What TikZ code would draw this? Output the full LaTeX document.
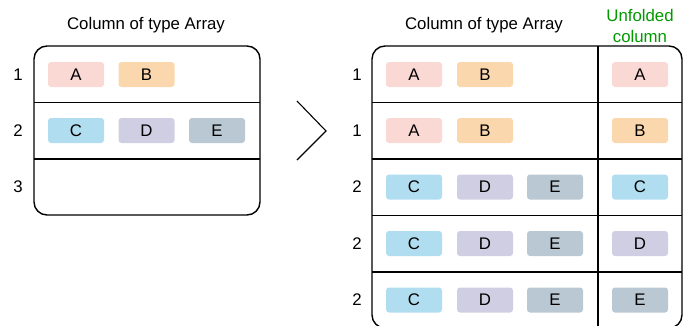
\documentclass[tikz,border=0pt]{standalone}
\usepackage{fontspec}
\setmainfont{Liberation Sans}
\usepackage{xcolor}
\definecolor{cellred}{HTML}{FAD9D5}
\definecolor{cellorange}{HTML}{FAD7AC}
\definecolor{cellblue}{HTML}{B1DDF0}
\definecolor{cellpurple}{HTML}{D0CEE2}
\definecolor{cellgrey}{HTML}{BAC8D3}
\definecolor{unfoldgreen}{HTML}{009900}
\tikzset{
	txt/.style = {align=center, inner sep=0pt, text centered, font=\fontsize{16.8}{20.5}\selectfont},
	pill/.style = {txt, rounded corners=3pt, minimum width=56pt, minimum height=25pt},
	valA/.style = {pill, fill=cellred},
	valB/.style = {pill, fill=cellorange},
	valC/.style = {pill, fill=cellblue},
	valD/.style = {pill, fill=cellpurple},
	valE/.style = {pill, fill=cellgrey},
	rownum/.style = {txt},
	frame/.style = {line width=1.4pt, rounded corners=13pt},
	rule/.style = {line width=1.4pt},
}

\begin{document}
\begin{tikzpicture}[x=1pt, y=-1pt]
	\useasboundingbox (0,0) rectangle (687,325);

	% source column
	\node[txt] (srctitle) at (146,25) {Column of type Array};
	\draw[frame] (34,46) rectangle (260,215);
	\draw[rule] (34,102.5) -- (260,102.5);
	\draw[rule] (34,159) -- (260,159);

	\node[rownum] (s1) at (18,74.5) {1};
	\node[rownum] (s2) at (18,130.5) {2};
	\node[rownum] (s3) at (18,187) {3};

	\node[valA] (sa) at (76,74.5) {A};
	\node[valB] (sb) at (146.5,74.5) {B};
	\node[valC] (sc) at (76,130.5) {C};
	\node[valD] (sd) at (146.5,130.5) {D};
	\node[valE] (se) at (217,130.5) {E};

	% arrow
	\draw[rule, line width=1.1pt] (297,101) -- (326,131) -- (297,160);

	% unfolded table
	\node[txt] (dsttitle) at (484,25) {Column of type Array};
	\node[txt, text=unfoldgreen] (unftitle) at (640,26) {Unfolded\\column};
	\draw[frame] (372,46) rectangle (682,328);
	\draw[rule] (372,102.5) -- (682,102.5);
	\draw[rule] (372,159) -- (682,159);
	\draw[rule] (372,215.5) -- (682,215.5);
	\draw[rule] (372,272) -- (682,272);
	\draw[rule] (598,46) -- (598,328);

	\node[rownum] (d1) at (357,74.5) {1};
	\node[rownum] (d2) at (357,130.5) {1};
	\node[rownum] (d3) at (357,187) {2};
	\node[rownum] (d4) at (357,243.5) {2};
	\node[rownum] (d5) at (357,300) {2};

	\node[valA] (a1) at (414,74.5) {A};
	\node[valB] (b1) at (485,74.5) {B};
	\node[valA] (a2) at (414,130.5) {A};
	\node[valB] (b2) at (485,130.5) {B};
	\node[valC] (c3) at (414,187) {C};
	\node[valD] (d3v) at (485,187) {D};
	\node[valE] (e3) at (555,187) {E};
	\node[valC] (c4) at (414,243.5) {C};
	\node[valD] (d4v) at (485,243.5) {D};
	\node[valE] (e4) at (555,243.5) {E};
	\node[valC] (c5) at (414,300) {C};
	\node[valD] (d5v) at (485,300) {D};
	\node[valE] (e5) at (555,300) {E};

	\node[valA] (u1) at (640,74.5) {A};
	\node[valB] (u2) at (640,130.5) {B};
	\node[valC] (u3) at (640,187) {C};
	\node[valD] (u4) at (640,243.5) {D};
	\node[valE] (u5) at (640,300) {E};
\end{tikzpicture}
\end{document}
